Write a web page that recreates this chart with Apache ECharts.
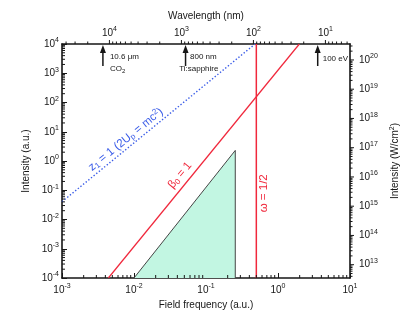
<!DOCTYPE html>
<html>
<head>
<meta charset="utf-8">
<script src="https://cdn.jsdelivr.net/npm/echarts@6/dist/echarts.min.js"></script>
<style>
  html, body { margin: 0; padding: 0; background: #fff; }
  #chart { width: 419px; height: 325px; }
</style>
</head>
<body>
<div id="chart"></div>
<script>
// axes ranges (field frequency and intensity in atomic units)
var freqRange = [1e-3, 10];
var intRange = [1e-4, 1e4];
var auToWcm2 = 3.51e16;   // 1 a.u. of intensity in W/cm^2
var auToNm = 45.56;       // wavelength (nm) = 45.56 / omega (a.u.)

// curves
var z1Line = [[0.001, 0.0405], [0.48, 1e4]];
var beta0Line = [[0.0044, 1e-4], [1.98, 1e4]];
var omegaHalf = [[0.5, 1e-4], [0.5, 1e4]];
var regionPts = [[0.01, 1e-4], [0.255, 2.3], [0.255, 1e-4]];

// arrows on the top edge
var arrowFreq = [0.0037, 0.052, 3.56];
var arrowText = [['10.6 \u03bcm', 'CO{sub|2}'], ['800 nm', 'Ti:sapphire'], ['100 eV']];

// rotated notes along the lines
var noteText = ['{g|\u03b2}{sub|0} = 1', 'z{sub|1} = 1 (2U{sub|p} = mc{sup|2})', '\u03c9 = 1/2'];
var noteFreq = [0.0436, 0.0077, 0.64];
var noteInt = [0.325, 5.4, 0.0787];

var FONT = '"Liberation Sans", Arial, Helvetica, sans-serif';
var RED = '#f0283c';
var BLUE = '#3a5ce8';
var INK = '#161616';

function minors(lo, hi) {
  var out = [];
  for (var e = Math.floor(Math.log10(lo)); e <= Math.ceil(Math.log10(hi)); e++) {
    for (var m = 2; m <= 9; m++) {
      var v = m * Math.pow(10, e);
      if (v > lo * 1.0001 && v < hi * 0.9999) out.push(v);
    }
  }
  return out;
}
function majors(lo, hi) {
  var out = [];
  for (var e = Math.ceil(Math.log10(lo) - 1e-6); e <= Math.floor(Math.log10(hi) + 1e-6); e++) out.push(Math.pow(10, e));
  return out;
}

var wlRange = [auToNm / freqRange[1], auToNm / freqRange[0]];
var wcmRange = [intRange[0] * auToWcm2, intRange[1] * auToWcm2];

// small tick marks drawn through the axes' own scales
function tickSeries(side, vals, len) {
  var xi = side === 'top' ? 1 : 0;
  var yi = side === 'right' ? 1 : 0;
  var data = vals.map(function (v) {
    if (side === 'bottom') return [v, intRange[0]];
    if (side === 'top') return [v, intRange[1]];
    if (side === 'left') return [freqRange[0], v];
    return [freqRange[1], v];
  });
  return {
    type: 'custom', xAxisIndex: xi, yAxisIndex: yi, silent: true, z: 5,
    data: data,
    renderItem: function (params, api) {
      var p = api.coord([api.value(0), api.value(1)]);
      var s = { x1: p[0], y1: p[1], x2: p[0], y2: p[1] };
      if (side === 'bottom' || side === 'top') s.y2 -= len;
      else s.x2 += len;
      return { type: 'line', shape: s, style: { stroke: INK, lineWidth: 1 } };
    }
  };
}

function expLabel(v) {
  var e = Math.log10(v);
  if (Math.abs(e - Math.round(e)) > 0.02) return '';
  return '10{s|' + Math.round(e) + '}';
}
var labelRich = { s: { fontSize: 7, fontFamily: FONT, color: INK, padding: [0, 0, 7, 0] } };
var axisLine = { show: true, onZero: false, lineStyle: { color: INK, width: 1.6 } };
var nameStyle = { fontSize: 10, color: INK, fontFamily: FONT };

var chart = echarts.init(document.getElementById('chart'), null, { renderer: 'canvas' });

var option = {
  animation: false,
  backgroundColor: '#fff',
  grid: { left: 62, right: 69, top: 44, bottom: 47, containLabel: false, outerBoundsMode: 'none' },
  xAxis: [
    {
      type: 'log', logBase: 10, min: freqRange[0], max: freqRange[1], position: 'bottom',
      name: 'Field frequency (a.u.)', nameLocation: 'middle', nameGap: 21, nameTextStyle: nameStyle,
      axisLine: axisLine,
      axisTick: { show: true, inside: true, length: 5, lineStyle: { color: INK, width: 1 } },
      axisLabel: { formatter: expLabel, rich: labelRich, fontSize: 10, color: INK, fontFamily: FONT, margin: 5 },
      splitLine: { show: false }, minorTick: { show: false }
    },
    {
      type: 'log', logBase: 10, min: wlRange[0], max: wlRange[1], inverse: true, position: 'top',
      name: 'Wavelength (nm)', nameLocation: 'middle', nameGap: 22, nameTextStyle: nameStyle,
      axisLine: axisLine,
      axisTick: { show: false },
      axisLabel: { formatter: expLabel, rich: labelRich, fontSize: 10, color: INK, fontFamily: FONT, margin: 4,
        showMinLabel: false, showMaxLabel: false },
      splitLine: { show: false }, minorTick: { show: false }
    }
  ],
  yAxis: [
    {
      type: 'log', logBase: 10, min: intRange[0], max: intRange[1], position: 'left',
      name: 'Intensity (a.u.)', nameLocation: 'middle', nameGap: 30, nameTextStyle: nameStyle,
      axisLine: axisLine,
      axisTick: { show: true, inside: true, length: 5, lineStyle: { color: INK, width: 1 } },
      axisLabel: { formatter: expLabel, rich: labelRich, fontSize: 10, color: INK, fontFamily: FONT, margin: 3 },
      splitLine: { show: false }, minorTick: { show: false }
    },
    {
      type: 'log', logBase: 10, min: wcmRange[0], max: wcmRange[1], position: 'right',
      name: 'Intensity (W/cm{s|2})', nameLocation: 'middle', nameGap: 32,
      nameTextStyle: { fontSize: 10, color: INK, fontFamily: FONT, rich: { s: { fontSize: 7, fontFamily: FONT, color: INK, padding: [0, 0, 6, 0] } } },
      axisLine: axisLine,
      axisTick: { show: false },
      axisLabel: { formatter: expLabel, rich: labelRich, fontSize: 10, color: INK, fontFamily: FONT, margin: 9,
        showMinLabel: false, showMaxLabel: false },
      splitLine: { show: false }, minorTick: { show: false }
    }
  ],
  series: [
    {
      type: 'line', data: regionPts, symbol: 'none', silent: true, z: 1,
      lineStyle: { color: '#444', width: 1 },
      areaStyle: { color: '#c2f6e2', opacity: 1, origin: 'start' }
    },
    {
      type: 'line', data: z1Line, symbol: 'none', silent: true, z: 2,
      lineStyle: { color: BLUE, width: 1.4, type: [1.4, 2] }
    },
    {
      type: 'line', data: beta0Line, symbol: 'none', silent: true, z: 2,
      lineStyle: { color: RED, width: 1.2 }
    },
    {
      type: 'line', data: omegaHalf, symbol: 'none', silent: true, z: 2,
      lineStyle: { color: RED, width: 1.5 }
    },
    tickSeries('bottom', minors(freqRange[0], freqRange[1]), 3),
    tickSeries('left', minors(intRange[0], intRange[1]), 3),
    tickSeries('top', majors(wlRange[0], wlRange[1]), 4),
    tickSeries('top', minors(wlRange[0], wlRange[1]), 2.5),
    tickSeries('right', majors(wcmRange[0], wcmRange[1]), 4),
    tickSeries('right', minors(wcmRange[0], wcmRange[1]), 2.5),
    {
      // arrows on the top edge with their captions
      type: 'custom', silent: true, z: 6,
      data: arrowFreq.map(function (f) { return [f, intRange[1]]; }),
      renderItem: function (params, api) {
        var i = params.dataIndex;
        var p = api.coord([api.value(0), api.value(1)]);
        var x = p[0], y = p[1];
        var lay = [[[7, 13], [7, 25]], [[4.5, 13], [-6.4, 25]], [[5, 15]]][i];
        var kids = [
          { type: 'polygon', shape: { points: [[x, y + 1], [x - 3, y + 9], [x + 3, y + 9]] }, style: { fill: INK } },
          { type: 'line', shape: { x1: x, y1: y + 8, x2: x, y2: y + 22 }, style: { stroke: INK, lineWidth: 1.5 } }
        ];
        arrowText[i].forEach(function (t, k) {
          kids.push({
            type: 'text', x: x + lay[k][0], y: y + lay[k][1],
            style: {
              text: t, fill: INK, fontSize: 8, fontFamily: FONT, align: 'left', verticalAlign: 'middle',
              rich: { sub: { fontSize: 6, fontFamily: FONT, fill: INK, padding: [4, 0, 0, 0] } }
            }
          });
        });
        return { type: 'group', children: kids };
      }
    },
    {
      // rotated notes
      type: 'custom', silent: true, z: 6,
      data: noteFreq.map(function (f, i) { return [f, noteInt[i]]; }),
      renderItem: function (params, api) {
        var i = params.dataIndex;
        var p = api.coord([api.value(0), api.value(1)]);
        var rot = Math.PI / 2;
        var ref = i === 0 ? beta0Line : i === 1 ? z1Line : null;
        if (ref) {
          var a = api.coord(ref[0]), b = api.coord(ref[1]);
          rot = Math.atan2(a[1] - b[1], b[0] - a[0]);
        }
        var col = i === 1 ? BLUE : RED;
        return {
          type: 'text', x: p[0], y: p[1], rotation: rot,
          style: {
            text: noteText[i], fill: col, fontSize: 11.5, fontFamily: FONT, align: 'center', verticalAlign: 'middle',
            rich: {
              g: { fontSize: 11.5, fontFamily: FONT, fill: col },
              sub: { fontSize: 8, fontFamily: FONT, fill: col, padding: [5, 0, 0, 0] },
              sup: { fontSize: 8, fontFamily: FONT, fill: col, padding: [0, 0, 6, 0] }
            }
          }
        };
      }
    }
  ]
};
chart.setOption(option);
</script>
</body>
</html>
